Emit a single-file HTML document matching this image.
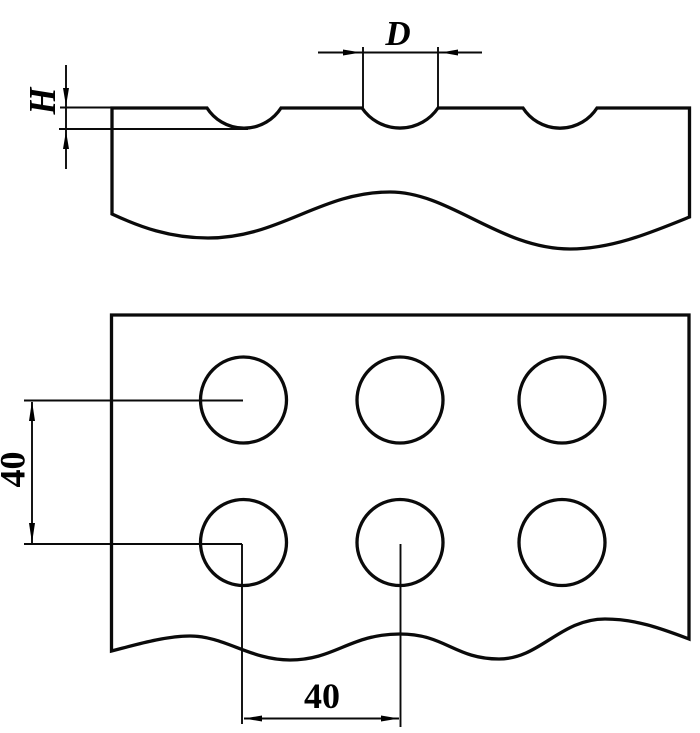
<!DOCTYPE html>
<html>
<head>
<meta charset="utf-8">
<style>
html,body{margin:0;padding:0;background:#fff;width:700px;height:733px;overflow:hidden}
svg{display:block}
text{font-family:"Liberation Serif",serif;font-weight:bold;fill:#000}
</style>
</head>
<body>
<svg width="700" height="733" viewBox="0 0 700 733" xmlns="http://www.w3.org/2000/svg">
<g fill="none" stroke="#0a0a0a" stroke-width="3.300" stroke-linejoin="miter">
<path d="M112 108H207A44 44 0 0 0 281 108H362A46 46 0 0 0 438 108H523A44 44 0 0 0 597 108H689.500V217C650 233 612 249 570 249C500 249 450 192 390 192C320 192 280 238 208 238C170 238 140 227 112 214V108Z"/>
<path d="M111.500 315H689V639C660 628 635 619 605 619C560 619 540 659 499 659C455 659 445 634 400 634C350 634 335 660 290 660C250 660 225 636 190 636C165 636 135 645 111.500 651V315Z"/>
<circle cx="243.500" cy="400" r="43"/>
<circle cx="400" cy="400" r="43"/>
<circle cx="562" cy="400" r="43"/>
<circle cx="243.500" cy="542.500" r="43"/>
<circle cx="400" cy="542.500" r="43"/>
<circle cx="562" cy="542.500" r="43"/>
</g>
<g fill="none" stroke="#0a0a0a" stroke-width="1.900">
<path d="M66 65V169M60 107.500H112M59 129H248"/>
<path d="M318 52.500H482M363 47V108M438 47V108"/>
<path d="M24 400.500H243M24 544H242M32 402V543"/>
<path d="M242 544V724M400.500 544V727M244 718.500H399"/>
</g>
<g fill="#000">
<path d="M66 106L63 88H69Z"/>
<path d="M66 131L63 149H69Z"/>
<path d="M361 52.500L343 49.500V55.500Z"/>
<path d="M441 52.500L458 49.500V55.500Z"/>
<path d="M32 401L29 421H35Z"/>
<path d="M32 543L29 523H35Z"/>
<path d="M244 718.500L262 715.500V721.500Z"/>
<path d="M399 718.500L381 715.500V721.500Z"/>
</g>
<text x="398" y="45" font-size="35" font-style="italic" text-anchor="middle">D</text>
<text transform="translate(55 101) rotate(-90)" font-size="38" font-style="italic" text-anchor="middle" textLength="27" lengthAdjust="spacingAndGlyphs">H</text>
<text x="322" y="708" font-size="36" text-anchor="middle">40</text>
<text transform="translate(24.500 469.500) rotate(-90)" font-size="36" text-anchor="middle">40</text>
</svg>
</body>
</html>
